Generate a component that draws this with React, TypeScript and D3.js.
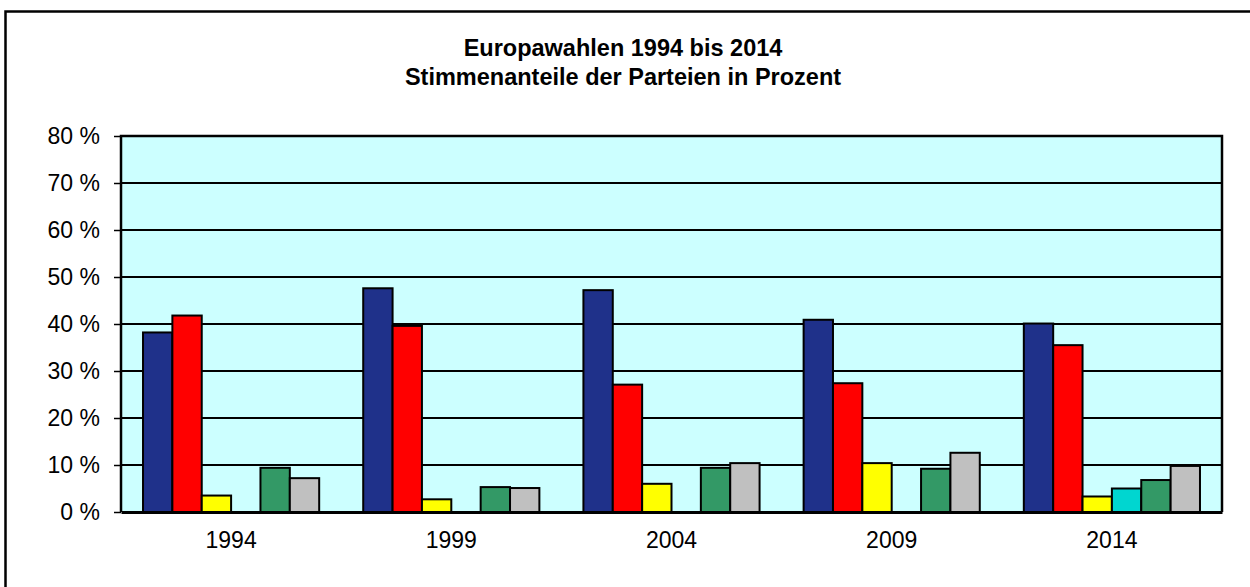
import React, { useEffect, useRef } from 'react';
import * as d3 from 'd3';

const years = ['1994', '1999', '2004', '2009', '2014'];
const seriesColors = ['#1f318a', '#ff0000', '#ffff00', '#00d6d0', '#339966', '#c0c0c0'];
const blueValues = [38.2, 47.6, 47.2, 40.9, 40.1];
const redValues = [41.8, 39.6, 27.1, 27.4, 35.5];
const yellowValues = [3.5, 2.7, 6.0, 10.4, 3.3];
const cyanValues = [null, null, null, null, 5.0];
const greenValues = [9.4, 5.3, 9.4, 9.2, 6.8];
const grayValues = [7.2, 5.1, 10.4, 12.6, 9.8];
const yTicks = [0, 10, 20, 30, 40, 50, 60, 70, 80];
const titleLines = ['Europawahlen 1994 bis 2014', 'Stimmenanteile der Parteien in Prozent'];

const App = () => {
  const ref = useRef<SVGSVGElement | null>(null);

  useEffect(() => {
    const svgWidth = 1250, svgHeight = 587;
    const left = 121, right = 1222, top = 136, bottom = 512;

    const series = [blueValues, redValues, yellowValues, cyanValues, greenValues, grayValues];

    const x = d3.scaleBand().domain(years).range([left, right]).paddingInner(0).paddingOuter(0);
    const xs = d3.scaleBand<number>().domain(d3.range(series.length))
      .range([0, x.bandwidth()]).paddingInner(0).paddingOuter(0.75);
    const y = d3.scaleLinear().domain([0, 80]).range([bottom, top]);

    let svg = d3.select(ref.current);
    svg.selectAll('*').remove();
    svg.attr('width', svgWidth).attr('height', svgHeight);

    // outer frame
    svg.append('rect')
      .attr('x', 5.5).attr('y', 11.5)
      .attr('width', 1260).attr('height', 600)
      .attr('fill', '#fff').attr('stroke', '#000').attr('stroke-width', 2.5);

    svg.append('g')
      .selectAll('text')
      .data(titleLines)
      .enter()
      .append('text')
      .text(d => d)
      .attr('x', 623)
      .attr('y', (d, i) => 56 + i * 29)
      .attr('text-anchor', 'middle')
      .attr('font-family', 'Liberation Sans, Arial, sans-serif')
      .attr('font-weight', 'bold')
      .attr('font-size', '23.5px')
      .attr('fill', '#000');

    // plot area
    svg.append('rect')
      .attr('x', left).attr('y', top)
      .attr('width', right - left).attr('height', bottom - top)
      .attr('fill', '#ccffff');

    svg.append('g')
      .selectAll('line')
      .data(yTicks.slice(1))
      .enter()
      .append('line')
      .attr('x1', left).attr('x2', right)
      .attr('y1', d => y(d)).attr('y2', d => y(d))
      .attr('stroke', '#000').attr('stroke-width', 2);

    const yAxis = svg.append('g')
      .attr('transform', 'translate(' + left + ',0)')
      .call(d3.axisLeft(y).tickValues(yTicks).tickSize(7).tickPadding(14).tickFormat(d => d + ' %'));
    yAxis.select('.domain').remove();
    yAxis.selectAll('.tick line').attr('stroke', '#000').attr('stroke-width', 1.5);
    yAxis.selectAll('.tick text')
      .attr('font-family', 'Liberation Sans, Arial, sans-serif')
      .attr('font-size', '23px')
      .attr('fill', '#000');

    // bars
    const groups = svg.append('g')
      .selectAll('g')
      .data(series)
      .enter()
      .append('g')
      .attr('fill', (d, i) => seriesColors[i]);

    groups.selectAll('rect')
      .data((d, i) => d.map((v, j) => ({ v, j, i })).filter(e => e.v != null))
      .enter()
      .append('rect')
      .attr('x', d => x(years[d.j])! + xs(d.i)!)
      .attr('y', d => y(d.v as number))
      .attr('width', xs.bandwidth())
      .attr('height', d => bottom - y(d.v as number))
      .attr('stroke', '#000')
      .attr('stroke-width', 2);

    // plot border
    svg.append('path')
      .attr('d', 'M' + left + ',' + bottom + 'V' + top + 'H' + right + 'V' + bottom)
      .attr('fill', 'none').attr('stroke', '#000').attr('stroke-width', 2.5);

    const xAxis = svg.append('g')
      .attr('transform', 'translate(0,' + bottom + ')')
      .call(d3.axisBottom(x).tickSize(0).tickPadding(20));
    xAxis.select('.domain').attr('stroke', '#000').attr('stroke-width', 3);
    xAxis.selectAll('.tick text')
      .attr('font-family', 'Liberation Sans, Arial, sans-serif')
      .attr('font-size', '23px')
      .attr('fill', '#000');
  }, []);

  return (
    <svg ref={ref} width={1250} height={587}
      style={{ position: 'absolute', left: 0, top: 0 }} />
  );
};

export default App;
